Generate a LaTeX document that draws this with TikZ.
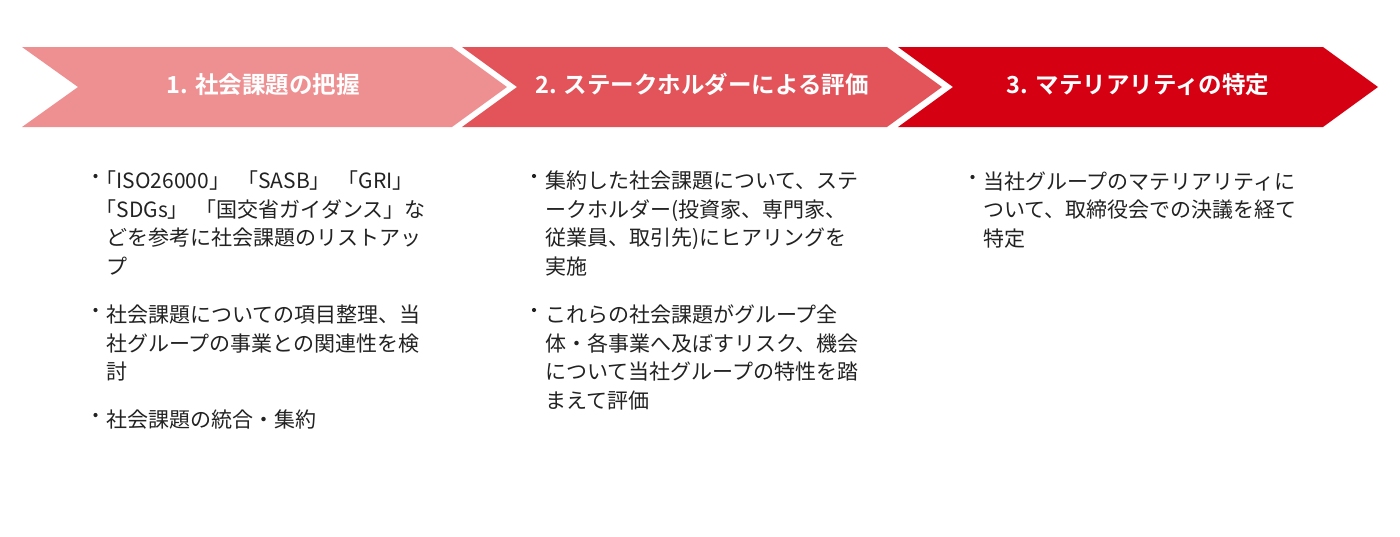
\documentclass[tikz,border=0pt]{standalone}
\usepackage{fontspec}
\setmainfont{Noto Sans CJK JP}[BoldFont=* Bold]
\definecolor{stepone}{RGB}{238,144,145}
\definecolor{steptwo}{RGB}{226,84,90}
\definecolor{stepthree}{RGB}{213,0,18}
\definecolor{bodytext}{RGB}{34,34,34}
\begin{document}
\begin{tikzpicture}[x=1pt,y=-1pt,
steptitle/.style={text=white,font=\fontsize{23.5}{28}\selectfont\bfseries,anchor=base,inner sep=0pt},
para/.style={text=bodytext,font=\fontsize{21}{28.7}\selectfont,text width=380pt,align=left,anchor=base west,inner sep=0pt},
dot/.style={circle,fill=bodytext,inner sep=0pt,minimum size=4.2pt}]
\useasboundingbox (0,0) rectangle (1400,536);
\fill[stepone] (22,47)--(452,47)--(507,87)--(452,127)--(22,127)--(78,87)--cycle;
\fill[steptwo] (462,47)--(887,47)--(942,87)--(887,127)--(462,127)--(517,87)--cycle;
\fill[stepthree] (898,47)--(1323,47)--(1378,87)--(1323,127)--(898,127)--(953,87)--cycle;
\node[steptitle] (t1) at (263,93.5) {1. 社会課題の把握};
\node[steptitle] (t2) at (702,93.5) {2. ステークホルダーによる評価};
\node[steptitle] (t3) at (1138,93.5) {3. マテリアリティの特定};
\node[dot] (b11) at (95.5,176) {};
\node[para] (p11) at (106,188.5) {\hspace*{-10.5pt}「ISO26000」 「SASB」 「GRI」\\\hspace*{-10.5pt}「SDGs」 「国交省ガイダンス」な\\どを参考に社会課題のリストアッ\\プ};
\node[dot] (b12) at (95.5,310) {};
\node[para] (p12) at (106,322.5) {社会課題についての項目整理、当\\社グループの事業との関連性を検\\討};
\node[dot] (b13) at (95.5,415) {};
\node[para] (p13) at (106,427.5) {社会課題の統合・集約};
\node[dot] (b21) at (534,176) {};
\node[para] (p21) at (545,188.5) {集約した社会課題について、ステ\\ークホルダー(投資家、専門家、\\従業員、取引先)にヒアリングを\\実施};
\node[dot] (b22) at (534,310) {};
\node[para] (p22) at (545,322.5) {これらの社会課題がグループ全\\体・各事業へ及ぼすリスク、機会\\について当社グループの特性を踏\\まえて評価};
\node[dot] (b31) at (972.5,177) {};
\node[para] (p31) at (983,189) {当社グループのマテリアリティに\\ついて、取締役会での決議を経て\\特定};
\end{tikzpicture}
\end{document}
